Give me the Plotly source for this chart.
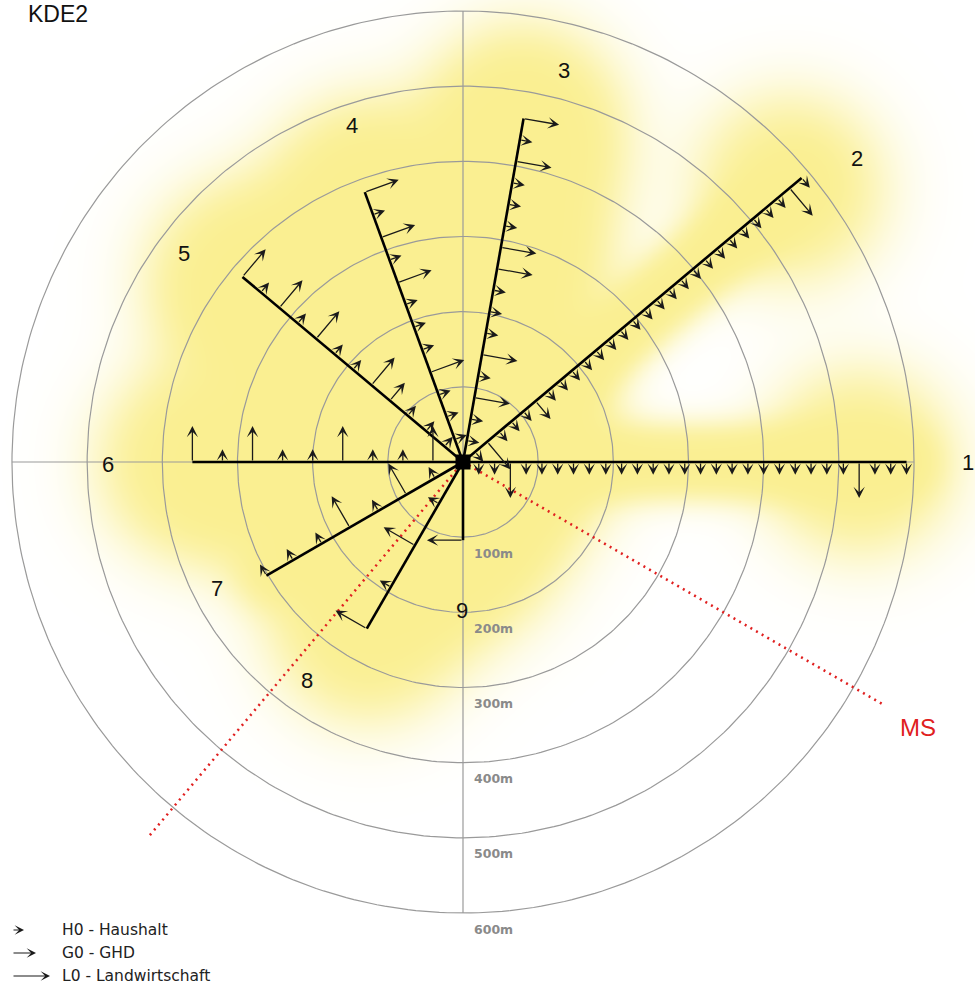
import numpy as np
import plotly.graph_objects as go

# ---------------- data ----------------
feeder_names = ["1", "2", "3", "4", "5", "6", "7", "8", "9"]
feeder_angle_deg = [0, 40, 80, 110, 140, 180, 210, 240, 270]
feeder_length_m = [590, 588, 464, 382, 383, 360, 302, 256, 104]

f1_pos = [21, 42, 63, 84, 105, 126, 147, 168, 190, 211, 232, 253, 274, 295,
          316, 337, 358, 379, 400, 421, 442, 463, 484, 506, 527, 548, 569, 590]
f1_type = ["H0", "H0", "L0", "H0", "H0", "H0", "H0", "H0", "H0", "H0", "H0", "H0", "H0", "H0",
           "H0", "H0", "H0", "H0", "H0", "H0", "H0", "H0", "H0", "H0", "L0", "H0", "H0", "H0"]

f2_pos = [21, 42, 63, 84, 105, 126, 147, 168, 189, 210, 231, 252, 273, 294,
          315, 336, 357, 378, 399, 420, 441, 462, 483, 504, 525, 546, 567, 588]
f2_type = ["H0", "L0", "H0", "H0", "H0", "G0", "H0", "H0", "H0", "H0", "H0", "H0", "H0", "H0",
           "H0", "H0", "H0", "H0", "H0", "H0", "H0", "H0", "H0", "H0", "H0", "H0", "L0", "H0"]

f3_pos = [29, 58, 87, 116, 145, 174, 203, 232, 261, 290, 319, 348, 377, 406, 435, 464]
f3_type = ["H0", "H0", "L0", "H0", "L0", "H0", "H0", "H0", "L0", "L0", "H0", "H0", "H0", "L0", "H0", "L0"]

f4_pos = [32, 64, 95, 127, 159, 191, 223, 254, 286, 318, 350, 382]
f4_type = ["H0", "H0", "H0", "L0", "H0", "H0", "H0", "L0", "H0", "L0", "H0", "L0"]

f5_pos = [32, 64, 96, 127, 159, 191, 223, 255, 287, 319, 351, 383]
f5_type = ["H0", "H0", "H0", "G0", "L0", "H0", "H0", "L0", "H0", "L0", "H0", "L0"]

f6_pos = [40, 80, 120, 160, 200, 240, 280, 320, 360]
f6_type = ["L0", "H0", "H0", "L0", "H0", "H0", "L0", "H0", "L0"]

f7_pos = [43, 87, 130, 174, 217, 261, 302]
f7_type = ["H0", "L0", "H0", "L0", "H0", "H0", "H0"]

f8_pos = [64, 128, 192, 256]
f8_type = ["H0", "L0", "H0", "L0"]

f9_pos = [104]
f9_type = ["L0"]

feeder_pos = [f1_pos, f2_pos, f3_pos, f4_pos, f5_pos, f6_pos, f7_pos, f8_pos, f9_pos]
feeder_type = [f1_type, f2_type, f3_type, f4_type, f5_type, f6_type, f7_type, f8_type, f9_type]

ms_angle_deg = [230, -30]
ms_length_m = [648, 648]

ring_radii = [100, 200, 300, 400, 500, 600]
ring_labels = ["100m", "200m", "300m", "400m", "500m", "600m"]

legend_types = ["H0", "G0", "L0"]
legend_labels = ["H0 - Haushalt", "G0 - GHD", "L0 - Landwirtschaft"]

# ---------------- styles / layout positions ----------------
ARROW_LEN = {"H0": 17, "G0": 31, "L0": 48}           # metres
LEGEND_PX = {"H0": 12, "G0": 24, "L0": 38}            # pixels
KDE_KERNEL = {"H0": (1.0, 30.0), "G0": (2.0, 50.0), "L0": (3.3, 72.0)}
label_xy = [(672, 0), (524, 404), (134, 521), (-148, 447), (-371, 277),
            (-472, -3), (-327, -168), (-208, -290), (-1, -197)]

W, H = 975, 985
CX, CY = 463, 462
MPP = 1.3303   # metres per pixel
XR = [-CX * MPP, (W - CX) * MPP]
YR = [-(H - CY) * MPP, CY * MPP]

fig = go.Figure()

# ---------- KDE glow ----------
gx = np.linspace(XR[0], XR[1], 280)
gy = np.linspace(YR[0], YR[1], 284)
GX, GY = np.meshgrid(gx, gy)
D = np.zeros_like(GX)
for ang, pos, typ in zip(feeder_angle_deg, feeder_pos, feeder_type):
    a = np.deg2rad(ang)
    for d, t in zip(pos, typ):
        w, s = KDE_KERNEL[t]
        px, py = d * np.cos(a), d * np.sin(a)
        D += w * np.exp(-((GX - px) ** 2 + (GY - py) ** 2) / (2 * s * s))
Z = np.tanh(D / 1.45)
fig.add_trace(go.Heatmap(x=gx, y=gy, z=Z, zmin=0, zmax=1, showscale=False,
                         colorscale=[[0, "rgb(255,255,255)"], [1, "rgb(250,239,145)"]],
                         zsmooth="best", hoverinfo="skip"))

# ---------- grid rings and cross ----------
t = np.linspace(0, 2 * np.pi, 361)
cx, cy = [], []
for r in ring_radii:
    cx += list(r * np.cos(t)) + [None]
    cy += list(r * np.sin(t)) + [None]
fig.add_trace(go.Scatter(x=cx, y=cy, mode="lines", line=dict(color="#9a9a9a", width=1.2),
                         hoverinfo="skip"))
R = max(ring_radii)
fig.add_trace(go.Scatter(x=[-R, R, None, 0, 0], y=[0, 0, None, -R, R], mode="lines",
                         line=dict(color="#9a9a9a", width=1.2), hoverinfo="skip"))

# ---------- MS dotted path ----------
mx = [ms_length_m[0] * np.cos(np.deg2rad(ms_angle_deg[0])), 0,
      ms_length_m[1] * np.cos(np.deg2rad(ms_angle_deg[1]))]
my = [ms_length_m[0] * np.sin(np.deg2rad(ms_angle_deg[0])), 0,
      ms_length_m[1] * np.sin(np.deg2rad(ms_angle_deg[1]))]
fig.add_trace(go.Scatter(x=mx, y=my, mode="lines",
                         line=dict(color="#e02020", width=2.5, dash="2px,4.5px"),
                         hoverinfo="skip"))

# ---------- feeder lines ----------
for ang, L in zip(feeder_angle_deg, feeder_length_m):
    a = np.deg2rad(ang)
    fig.add_trace(go.Scatter(x=[0, L * np.cos(a)], y=[0, L * np.sin(a)], mode="lines",
                             line=dict(color="#000000", width=2.6), hoverinfo="skip"))

fig.add_trace(go.Scatter(x=[0], y=[0], mode="markers",
                         marker=dict(symbol="square", size=15, color="#000000"),
                         hoverinfo="skip"))

annotations = []
# ---------- load arrows ----------
for ang, pos, typ in zip(feeder_angle_deg, feeder_pos, feeder_type):
    a = np.deg2rad(ang)
    b = np.deg2rad(ang - 90)
    for d, tp in zip(pos, typ):
        tx, ty = d * np.cos(a), d * np.sin(a)
        Ln = ARROW_LEN[tp]
        annotations.append(dict(x=tx + Ln * np.cos(b), y=ty + Ln * np.sin(b), ax=tx, ay=ty,
                                xref="x", yref="y", axref="x", ayref="y", text="",
                                showarrow=True, arrowhead=3, arrowsize=1.45, arrowwidth=1.3,
                                arrowcolor="#1a1a1a", standoff=0, startstandoff=0))

# ---------- feeder labels ----------
for name, (lx, ly) in zip(feeder_names, label_xy):
    annotations.append(dict(x=lx, y=ly, xref="x", yref="y", text=name, showarrow=False,
                            xanchor="center", yanchor="middle",
                            font=dict(family="Liberation Sans", size=22, color="#111111")))

# ---------- ring labels ----------
for r, lab in zip(ring_radii, ring_labels):
    annotations.append(dict(x=41, y=-r, xref="x", yref="y", text=lab, showarrow=False,
                            yshift=-16, xanchor="center", yanchor="middle",
                            font=dict(family="DejaVu Sans", size=12.5, color="#8a8a8a",
                                      weight="bold")))

# ---------- MS label ----------
annotations.append(dict(x=(918 - CX) * MPP, y=-(727 - CY) * MPP, xref="x", yref="y",
                        text="MS", showarrow=False, xanchor="center", yanchor="middle",
                        font=dict(family="Liberation Sans", size=24, color="#e02020")))

# ---------- title ----------
annotations.append(dict(x=58 / W, y=1 - 14 / H, xref="paper", yref="paper", text="KDE2",
                        showarrow=False, xanchor="center", yanchor="middle",
                        font=dict(family="Liberation Sans", size=23, color="#111111")))

# ---------- legend ----------
for i, (tp, lab) in enumerate(zip(legend_types, legend_labels)):
    py = 930 + i * 23
    annotations.append(dict(x=(12 + LEGEND_PX[tp]) / W, y=1 - py / H, xref="paper", yref="paper",
                            ax=-LEGEND_PX[tp], ay=0, axref="pixel", ayref="pixel", text="",
                            showarrow=True, arrowhead=3, arrowsize=1.3, arrowwidth=1.2,
                            arrowcolor="#1a1a1a", standoff=0, startstandoff=0))
    annotations.append(dict(x=60 / W, y=1 - py / H, xref="paper", yref="paper", text=lab,
                            showarrow=False, xanchor="left", yanchor="middle",
                            font=dict(family="DejaVu Sans", size=15.5, color="#222222")))

fig.update_layout(
    width=W, height=H, margin=dict(l=0, r=0, t=0, b=0),
    paper_bgcolor="white", plot_bgcolor="white", showlegend=False,
    xaxis=dict(range=XR, visible=False, fixedrange=True),
    yaxis=dict(range=YR, visible=False, fixedrange=True),
    annotations=annotations,
)

fig.write_html("out.html", config={"displayModeBar": False},
               post_script="document.body.style.margin='0px';document.body.style.overflow='hidden';")
